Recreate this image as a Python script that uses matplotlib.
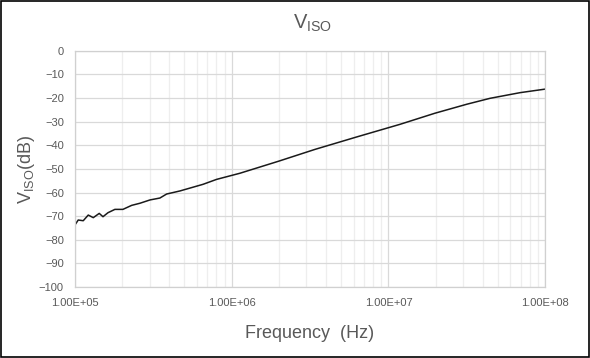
import matplotlib
matplotlib.use("Agg")
import matplotlib.pyplot as plt
import numpy as np
from matplotlib.patches import Rectangle

# log10(frequency) and V_ISO (dB)
log_freq = [5.0, 5.021, 5.053, 5.085, 5.117, 5.155, 5.179, 5.211, 5.255, 5.306,
            5.362, 5.415, 5.479, 5.542, 5.585, 5.670, 5.817, 5.904, 6.053, 6.30,
            6.532, 6.80, 7.074, 7.297, 7.50, 7.648, 7.840, 8.0]
viso_db = [-73.7, -71.6, -71.9, -69.5, -70.6, -68.8, -70.2, -68.5, -67.1, -67.1,
           -65.4, -64.5, -63.1, -62.3, -60.6, -59.3, -56.5, -54.4, -51.8, -46.7,
           -41.7, -36.4, -31.1, -26.4, -22.6, -20.1, -17.7, -16.2]
freq = [10 ** v for v in log_freq]

xticks = [1e5, 1e6, 1e7, 1e8]
xticklabels = ["1.00E+05", "1.00E+06", "1.00E+07", "1.00E+08"]
yticks = list(range(-100, 1, 10))

plt.rcParams["font.family"] = ["Liberation Sans", "DejaVu Sans"]
plt.rcParams["mathtext.fontset"] = "custom"
plt.rcParams["mathtext.rm"] = "Liberation Sans"

gray = "#595959"
fig = plt.figure(figsize=(5.9, 3.58), dpi=100)
ax = fig.add_axes([0.127, 0.198, 0.797, 0.660])
ax.plot(freq, viso_db, color="#1a1a1a", lw=1.1)
ax.set_xscale("log")
ax.set_xlim(1e5, 1e8)
ax.set_ylim(-100, 0)
ax.set_xticks(xticks)
ax.set_xticklabels(xticklabels)
ax.set_yticks(yticks)
ax.xaxis.set_minor_locator(matplotlib.ticker.LogLocator(base=10, subs=np.arange(2, 10)))
ax.xaxis.set_minor_formatter(matplotlib.ticker.NullFormatter())
ax.grid(True, which="major", color="#d9d9d9", lw=0.9)
ax.grid(True, which="minor", axis="x", color="#eeeeee", lw=0.9)
ax.set_axisbelow(True)
for s in ax.spines.values():
    s.set_color("#d0d0d0")
    s.set_linewidth(0.9)
ax.tick_params(which="both", length=0, colors=gray, labelsize=8, pad=8)

ax.set_xlabel("Frequency  (Hz)", fontsize=13, color=gray, labelpad=12)
ax.set_ylabel(r"$\mathregular{V_{ISO}}$(dB)", fontsize=13, color=gray, labelpad=1)
fig.text(0.53, 0.935, r"$\mathregular{V_{ISO}}$", fontsize=14.5, color=gray, ha="center", va="center")

fig.patches.append(Rectangle((0.002, 0.003), 0.996, 0.994, transform=fig.transFigure,
                             fill=False, edgecolor="black", lw=1.2))
fig.savefig("out.png", dpi=100)
